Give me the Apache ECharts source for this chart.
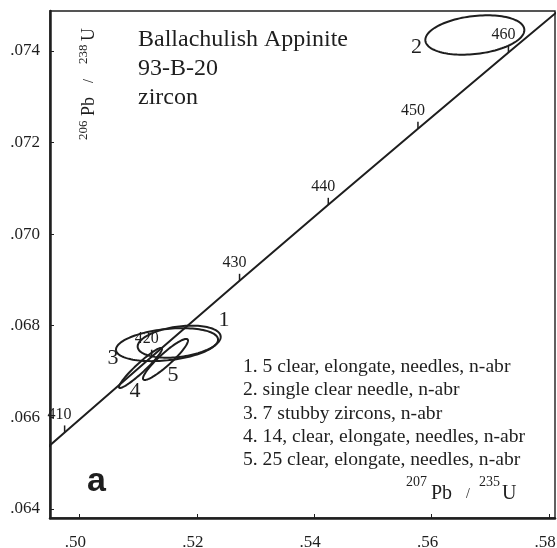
<!DOCTYPE html>
<html>
<head>
<meta charset="utf-8">
<script src="https://cdn.jsdelivr.net/npm/echarts@6/dist/echarts.min.js"></script>
<style>
html,body{margin:0;padding:0;background:#fff;}
#c{width:557px;height:548px;}
</style>
</head>
<body>
<div id="c"></div>
<script>
// ---- data ----
const xTicks = [0.50, 0.52, 0.54, 0.56, 0.58];
const yTicks = [0.064, 0.066, 0.068, 0.070, 0.072, 0.074];

// concordia points (age in Ma, 207Pb/235U, 206Pb/238U)
const concordiaAges = [400, 410, 420, 430, 440, 450, 460, 470];
const concordiaX = [0.48281, 0.49749, 0.51231, 0.52728, 0.54239, 0.55766, 0.57307, 0.58864];
const concordiaY = [0.064016, 0.065668, 0.067322, 0.068979, 0.070638, 0.072300, 0.073965, 0.075632];
const tickAges = [410, 420, 430, 440, 450, 460];

// error ellipses: centre, half-extent in x and y, correlation
const ellipseNames = ['1', '2', '3', '4', '5'];
const ellipseCX = [0.51700, 0.56735, 0.51493, 0.51041, 0.51467];
const ellipseCY = [0.067650, 0.074346, 0.067585, 0.067077, 0.067262];
const ellipseSX = [0.00707, 0.00843, 0.00869, 0.00366, 0.00383];
const ellipseSY = [0.000350, 0.000430, 0.000360, 0.000437, 0.000448];
const ellipseRho = [0.30, 0.25, 0.30, 0.95, 0.92];

// ellipse number labels positions
const ellipseLabelX = [0.52463, 0.55740, 0.50573, 0.50948, 0.51595];
const ellipseLabelY = [0.068125, 0.074084, 0.067295, 0.066575, 0.066924];

const titleLines = ['Ballachulish Appinite', '93-B-20', 'zircon'];
const legendLines = [
  '1. 5 clear, elongate, needles, n-abr',
  '2. single clear needle, n-abr',
  '3. 7 stubby zircons, n-abr',
  '4. 14, clear, elongate, needles, n-abr',
  '5. 25 clear, elongate, needles, n-abr'
];

// ---- chart ----
const SERIF = '"Liberation Serif", "Times New Roman", serif';
const INK = '#1e1e1e';
const chart = echarts.init(document.getElementById('c'), null, {renderer: 'canvas'});

function txt(x, y, text, size, opts) {
  opts = opts || {};
  return {
    type: 'text', x: x, y: y, silent: true,
    style: {
      text: text,
      font: (opts.weight || 'normal') + ' ' + size + 'px ' + (opts.family || SERIF),
      fill: INK,
      align: opts.align || 'left', textAlign: opts.align || 'left',
      verticalAlign: 'middle', textVerticalAlign: 'middle'
    }
  };
}

const graphics = [];
titleLines.forEach((t, i) => graphics.push(txt(138, 40 + i * 29, t, 24)));
legendLines.forEach((t, i) => graphics.push(txt(243, 367 + i * 23.3, t, 19.6)));
graphics.push(txt(87, 482, 'a', 34, {weight: 'bold', family: '"Liberation Sans", Arial, sans-serif'}));
// x-axis title
graphics.push(txt(406, 482, '207', 14));
graphics.push(txt(431, 494, 'Pb', 20));
graphics.push(txt(466, 494, '/', 14));
graphics.push(txt(479, 482, '235', 14));
graphics.push(txt(502, 494, 'U', 20));
// y-axis title (rotated)
graphics.push({
  type: 'group', x: 93, y: 140, rotation: Math.PI / 2, silent: true,
  children: [
    txt(0, -9, '206', 13),
    txt(24, -4, 'Pb', 18),
    txt(57, -4, '/', 14),
    txt(76, -9, '238', 13),
    txt(99, -4, 'U', 18)
  ]
});

const concordiaData = concordiaX.map((x, i) => [x, concordiaY[i]]);
const tickData = tickAges.map(a => {
  const i = concordiaAges.indexOf(a);
  return [concordiaX[i], concordiaY[i], a];
});
const ellipseData = ellipseNames.map((n, i) => [ellipseCX[i], ellipseCY[i], ellipseSX[i], ellipseSY[i], ellipseRho[i]]);
const ellLabelData = ellipseNames.map((n, i) => [ellipseLabelX[i], ellipseLabelY[i]]);

chart.setOption({
  animation: false,
  backgroundColor: '#fff',
  grid: {left: 50, top: 11, right: 2, bottom: 30, containLabel: false, outerBoundsMode: 'none',
    show: true, borderColor: INK, borderWidth: 1.4, backgroundColor: 'transparent'},
  xAxis: {
    type: 'value', min: 0.495, max: 0.581,
    axisLine: {show: true, onZero: false, lineStyle: {color: INK, width: 2.5}},
    axisTick: {show: true, inside: true, length: 4, customValues: xTicks, lineStyle: {color: INK, width: 1}},
    axisLabel: {customValues: xTicks, margin: 16, color: INK, fontSize: 17, fontFamily: SERIF,
      padding: [0, 8, 0, 0],
      formatter: v => v.toFixed(2).replace(/^0/, '')},
    splitLine: {show: false}
  },
  yAxis: {
    type: 'value', min: 0.0638, max: 0.07487,
    axisLine: {show: true, onZero: false, lineStyle: {color: INK, width: 2.5}},
    axisTick: {show: true, inside: true, length: 4, customValues: yTicks, lineStyle: {color: INK, width: 1}},
    axisLabel: {customValues: yTicks, margin: 10, color: INK, fontSize: 17, fontFamily: SERIF,
      formatter: v => v.toFixed(3).replace(/^0/, '')},
    splitLine: {show: false}
  },
  graphic: graphics,
  series: [
    {
      type: 'line', data: concordiaData, symbol: 'none', silent: true, clip: true,
      lineStyle: {color: INK, width: 2}
    },
    {
      type: 'custom', data: ellipseData, silent: true, clip: true,
      encode: {x: 0, y: 1},
      renderItem: function (params, api) {
        const cx = api.value(0), cy = api.value(1), sx = api.value(2), sy = api.value(3), r = api.value(4);
        const q = Math.sqrt(1 - r * r);
        const pts = [];
        for (let k = 0; k < 120; k++) {
          const t = k / 120 * Math.PI * 2;
          pts.push(api.coord([cx + sx * Math.cos(t), cy + sy * (r * Math.cos(t) + q * Math.sin(t))]));
        }
        return {type: 'polygon', shape: {points: pts}, style: {fill: 'none', stroke: INK, lineWidth: 2}};
      }
    },
    {
      type: 'custom', data: tickData, silent: true,
      encode: {x: 0, y: 1},
      renderItem: function (params, api) {
        const p = api.coord([api.value(0), api.value(1)]);
        return {
          type: 'group', children: [
            {type: 'line', shape: {x1: p[0], y1: p[1], x2: p[0], y2: p[1] - 7}, style: {stroke: INK, lineWidth: 1.5}},
            {type: 'text', x: p[0] - 5, y: p[1] - 18, style: {text: String(api.value(2)), font: '16px ' + SERIF, fill: INK,
              align: 'center', verticalAlign: 'middle', textAlign: 'center', textVerticalAlign: 'middle'}}
          ]
        };
      }
    },
    {
      type: 'custom', data: ellLabelData, silent: true,
      encode: {x: 0, y: 1},
      renderItem: function (params, api) {
        const p = api.coord([api.value(0), api.value(1)]);
        return {type: 'text', x: p[0], y: p[1], style: {text: ellipseNames[params.dataIndex], font: '22px ' + SERIF, fill: INK,
          align: 'center', verticalAlign: 'middle', textAlign: 'center', textVerticalAlign: 'middle'}};
      }
    }
  ]
});
</script>
</body>
</html>
